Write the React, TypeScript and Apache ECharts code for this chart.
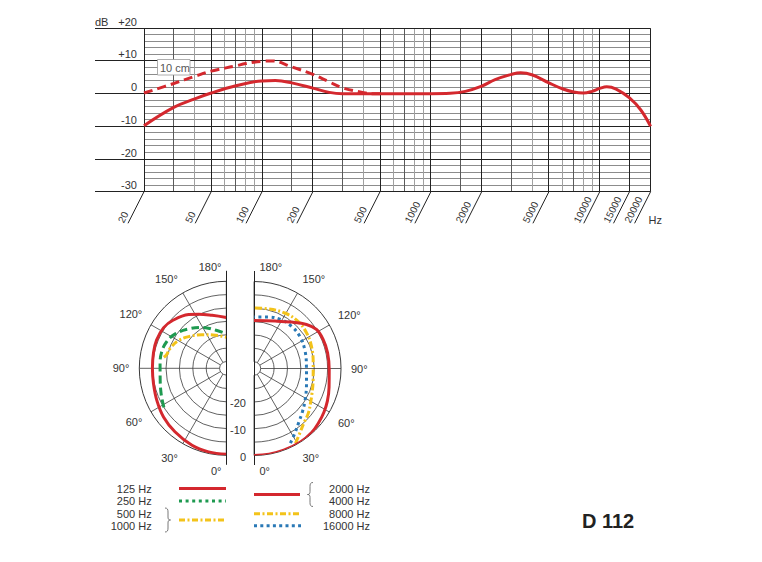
import React, { useEffect, useRef } from 'react';
import * as echarts from 'echarts';

const FONT = '"Liberation Sans", Arial, Helvetica, sans-serif';
const RED = '#d4282e';
const GREEN = '#1e9a50';
const YELLOW = '#f3c31a';
const BLUE = '#2a79b6';
const INK = '#333';

// ---------- frequency response (top) ----------
const FREQ_FAR = [20, 30, 40, 50, 70, 100, 120, 150, 200, 250, 300, 400, 700, 1000, 1300, 1600, 2000, 2400, 3000, 3400, 4000, 5000, 6000, 7000, 8000, 9000, 10000, 11000, 12500, 15000, 17500, 20000];
const DB_FAR = [-9.8, -4.2, -1.6, 0.2, 2.4, 3.9, 4.0, 3.3, 1.7, 0.4, 0, 0, 0, 0, 0.1, 0.7, 2.3, 4.3, 5.9, 6.4, 5.7, 3.3, 1.5, 0.5, 0.2, 0.7, 1.6, 2.1, 1.4, -1.3, -5.0, -10];

const FREQ_NEAR = [20, 30, 40, 50, 70, 80, 100, 115, 150, 200, 250, 300, 400, 450, 500];
const DB_NEAR = [0.2, 3.1, 5.3, 6.9, 8.5, 9.2, 9.9, 10, 8.2, 5.9, 3.6, 1.8, 0.3, 0, 0];

const FREQ_MAJOR = [20, 50, 100, 200, 500, 1000, 2000, 5000, 10000, 15000, 20000];
const FREQ_LABELS = ['20', '50', '100', '200', '500', '1000', '2000', '5000', '10000', '15000', '20000'];
const FREQ_MID = [30, 70, 150, 300, 700, 1500, 3000, 7000];
const FREQ_LIGHT = [40, 60, 80, 90, 400, 600, 800, 900, 4000, 6000, 8000, 9000];
const DB_MAJOR = [-30, -20, -10, 0, 10, 20];
const DB_MINOR = [-28, -26, -24, -22, -18, -16, -14, -12, -8, -6, -4, -2, 2, 4, 6, 8, 12, 14, 16, 18];

// ---------- polar patterns (bottom) ----------
// left half: 125 Hz, 250 Hz, 500/1000 Hz
const ANG_125 = [0, 12, 24, 39, 52, 65, 78, 90, 102, 112, 123, 132, 145, 153, 165, 180];
const DB_125 = [-0.4, -0.6, -1.0, -2.0, -2.8, -3.9, -4.7, -4.9, -4.7, -4.4, -4.6, -5.7, -8.0, -9.8, -12.0, -13.5];
const ANG_250 = [58, 69, 83, 94, 104, 114, 124, 136, 149, 164, 180];
const DB_250 = [-5.0, -6.4, -7.6, -7.7, -7.6, -8.1, -9.5, -12.1, -14.7, -17.6, -19.6];
const ANG_500 = [100, 103, 111, 120, 130, 144, 162, 180];
const DB_500 = [-8.8, -9.6, -10.4, -11.8, -14.1, -17.0, -19.5, -20.9];
// right half: 2000/4000 Hz, 8000 Hz, 16000 Hz
const ANG_2000 = [0, 10, 20, 32, 42, 50, 58, 66, 76, 89, 102, 113, 122, 130, 141, 156, 180];
const DB_2000 = [0, 0, 0, 0, -0.3, -1.0, -1.7, -2.5, -3.6, -4.4, -4.4, -4.5, -5.0, -6.9, -10.2, -13.1, -14.6];
const ANG_8000 = [29, 35, 43, 51, 60, 65, 79, 95, 111, 124, 137, 151, 167, 180];
const DB_8000 = [-0.5, -2.8, -5.0, -6.3, -8.0, -8.7, -10.0, -10.3, -9.5, -8.8, -8.4, -8.8, -9.6, -9.9];
const ANG_16000 = [26, 32, 40, 48, 58, 74, 92, 110, 125, 138, 151, 165, 180];
const DB_16000 = [-1.5, -3.8, -6.4, -8.2, -10.0, -12.1, -12.9, -12.3, -11.6, -11.4, -11.6, -12.6, -13.3];

const RING_LEVELS = [-30, -25, -20, -15, -10, -5, 0];
const RADIAL_LABELS = [-20, -10, 0];

const zip = (a: number[], b: number[]) => a.map((v, i) => [v, b[i]]);

echarts.graphic.registerShape(
  'braceR',
  echarts.graphic.extendPath('M0,0 C2.5,0 3,1.5 3,4 L3,9 C3,11 3.5,12 5.5,12 C3.5,12 3,13 3,15 L3,20 C3,22.5 2.5,24 0,24', {})
);
echarts.graphic.registerShape(
  'braceL',
  echarts.graphic.extendPath('M5.5,0 C3,0 2.5,1.5 2.5,4 L2.5,9 C2.5,11 2,12 0,12 C2,12 2.5,13 2.5,15 L2.5,20 C2.5,22.5 3,24 5.5,24', {})
);

const crisp = (v: number) => Math.round(v - 0.5) + 0.5;

function topGrid(_params: any, api: any) {
  const ch: any[] = [];
  const line = (a: number[], b: number[], stroke: string, w: number) =>
    ch.push({ type: 'line', shape: { x1: a[0], y1: a[1], x2: b[0], y2: b[1] }, style: { stroke, lineWidth: w } });
  const vline = (f: number, stroke: string) => {
    const a = api.coord([f, -30]);
    const b = api.coord([f, 20]);
    const x = crisp(a[0]);
    line([x, b[1]], [x, a[1]], stroke, 1);
  };
  const hline = (d: number, stroke: string, ext: number) => {
    const a = api.coord([20, d]);
    const b = api.coord([20000, d]);
    const y = crisp(a[1]);
    line([a[0] - ext, y], [b[0], y], stroke, 1);
  };
  DB_MINOR.forEach((d) => hline(d, '#8c8c8c', 0));
  FREQ_LIGHT.forEach((f) => vline(f, '#a0a0a0'));
  FREQ_MID.forEach((f) => vline(f, '#5a5a5a'));
  FREQ_MAJOR.forEach((f) => vline(f, '#222'));
  DB_MAJOR.forEach((d) => hline(d, '#222', 49));
  FREQ_MAJOR.forEach((f, i) => {
    const p = api.coord([f, -30]);
    const q = [p[0] - 16, p[1] + 31.6];
    line(p, q, '#222', 1);
    ch.push({
      type: 'text',
      x: q[0] - 3,
      y: q[1] + 1,
      rotation: (63 * Math.PI) / 180,
      style: { text: FREQ_LABELS[i], fill: INK, fontSize: 10, fontFamily: FONT, align: 'left', verticalAlign: 'bottom' },
    });
  });
  const hz = api.coord([20000, -30]);
  ch.push({
    type: 'text',
    x: hz[0] - 2,
    y: hz[1] + 28.5,
    style: { text: 'Hz', fill: INK, fontSize: 11, fontFamily: FONT, align: 'left', verticalAlign: 'middle' },
  });
  return { type: 'group', children: ch };
}

function polarDeco(side: 'L' | 'R') {
  return (_params: any, api: any) => {
    const top = api.coord([0, 180]);
    const bot = api.coord([0, 0]);
    const mid = api.coord([0, 90]);
    const cx = bot[0];
    const cy = mid[1];
    const x = crisp(top[0]);
    const ch: any[] = [];
    const s = side === 'L' ? -1 : 1;
    const align = side === 'L' ? 'right' : 'left';
    const txt = (text: string, tx: number, ty: number, al: string) => ({
      type: 'text',
      x: tx,
      y: ty,
      style: { text, fill: INK, fontSize: 11, fontFamily: FONT, align: al, verticalAlign: 'middle' },
    });
    RING_LEVELS.forEach((v) => {
      const p = api.coord([v, 90]);
      const r = Math.abs(p[0] - cx);
      ch.push({
        type: 'arc',
        shape: {
          cx,
          cy,
          r,
          startAngle: side === 'L' ? Math.PI / 2 : -Math.PI / 2,
          endAngle: side === 'L' ? (3 * Math.PI) / 2 : Math.PI / 2,
          clockwise: true,
        },
        style: { stroke: '#3a3a3a', lineWidth: v === 0 ? 1 : 0.8, fill: null },
      });
    });
    ch.push({ type: 'line', shape: { x1: x, y1: top[1] - 10.5, x2: x, y2: bot[1] + 9.5 }, style: { stroke: '#222', lineWidth: 1 } });
    ch.push(txt('180°', x + s * 5, top[1] - 14.3, align));
    ch.push(txt('0°', x + s * 5, bot[1] + 15.4, align));
    if (side === 'R') {
      RADIAL_LABELS.forEach((v) => {
        const p = api.coord([v, 0]);
        ch.push(txt(String(v), p[0] - 8, p[1] + 1, 'right'));
      });
    }
    return { type: 'group', children: ch };
  };
}

function angleAxis(polarIndex: number, startAngle: number, endAngle: number, clockwise: boolean) {
  return {
    polarIndex,
    type: 'value',
    min: 0,
    max: 180,
    interval: 30,
    startAngle,
    endAngle,
    clockwise,
    axisLine: { show: false },
    axisTick: { show: false },
    axisLabel: {
      margin: 10,
      color: INK,
      fontSize: 11,
      fontFamily: FONT,
      formatter: (v: number) => (v === 0 || v === 180 ? '' : v + '°'),
    },
    splitLine: { show: true, lineStyle: { color: '#3a3a3a', width: 0.8 } },
  };
}

function radiusAxis(polarIndex: number) {
  return {
    polarIndex,
    type: 'value',
    min: -30,
    max: 0,
    interval: 5,
    axisLine: { show: false },
    axisTick: { show: false },
    axisLabel: { show: false },
    splitLine: { show: false },
  };
}

function polarLine(polarIndex: number, angles: number[], dbs: number[], color: string, type: any, z: number) {
  return {
    type: 'line',
    coordinateSystem: 'polar',
    polarIndex,
    data: zip(dbs, angles),
    smooth: 0.4,
    symbol: 'none',
    showSymbol: false,
    silent: true,
    z,
    lineStyle: { color, width: 3, type, cap: 'butt' },
  };
}

function buildOption() {
  const T = (text: string, x: number, y: number, align = 'right', extra: any = {}) => ({
    type: 'text',
    x,
    y,
    style: { text, fill: INK, fontSize: 11, fontFamily: FONT, align, verticalAlign: 'middle', ...extra },
  });
  const L = (x1: number, x2: number, y: number, stroke: string, lineDash?: number[]) => ({
    type: 'line',
    shape: { x1, y1: y, x2, y2: y },
    style: { stroke, lineWidth: 3, lineDash },
  });
  return {
    animation: false,
    textStyle: { fontFamily: FONT },
    grid: { left: 144, right: 111.4, top: 28.3, bottom: 370.3, containLabel: false },
    xAxis: {
      type: 'log',
      logBase: 10,
      min: 20,
      max: 20000,
      axisLine: { show: false },
      axisTick: { show: false },
      axisLabel: { show: false },
      splitLine: { show: false },
    },
    yAxis: {
      type: 'value',
      min: -30,
      max: 20,
      interval: 10,
      axisLine: { show: false },
      axisTick: { show: false },
      splitLine: { show: false },
      axisLabel: {
        color: INK,
        fontSize: 11,
        fontFamily: FONT,
        align: 'right',
        verticalAlign: 'bottom',
        margin: 7,
        padding: [0, 0, 1, 0],
        formatter: (v: number) => (v > 0 ? '+' + v : String(v)),
      },
    },
    polar: [
      { center: [226.3, 368.3], radius: [6.7, 87] },
      { center: [254, 368.5], radius: [6.7, 87] },
    ],
    angleAxis: [angleAxis(0, 270, 90, true), angleAxis(1, -90, 90, false)],
    radiusAxis: [radiusAxis(0), radiusAxis(1)],
    series: [
      { type: 'custom', xAxisIndex: 0, yAxisIndex: 0, silent: true, clip: false, z: 1, data: [[20, -30]], renderItem: topGrid },
      {
        type: 'line',
        data: zip(FREQ_NEAR, DB_NEAR),
        smooth: 0.4,
        symbol: 'none',
        silent: true,
        z: 4,
        lineStyle: { color: RED, width: 3, type: [9, 5] },
      },
      {
        type: 'line',
        data: zip(FREQ_FAR, DB_FAR),
        smooth: 0.4,
        symbol: 'none',
        silent: true,
        z: 5,
        lineStyle: { color: RED, width: 3 },
      },
      { type: 'custom', coordinateSystem: 'polar', polarIndex: 0, silent: true, clip: false, z: 2, data: [[0, 0]], renderItem: polarDeco('L') },
      { type: 'custom', coordinateSystem: 'polar', polarIndex: 1, silent: true, clip: false, z: 2, data: [[0, 0]], renderItem: polarDeco('R') },
      polarLine(0, ANG_500, DB_500, YELLOW, [7, 2.5, 2, 2.5], 3),
      polarLine(0, ANG_250, DB_250, GREEN, [8, 4], 4),
      polarLine(0, ANG_125, DB_125, RED, 'solid', 5),
      polarLine(1, ANG_16000, DB_16000, BLUE, [3, 3.5], 3),
      polarLine(1, ANG_8000, DB_8000, YELLOW, [7, 2.5, 2, 2.5], 4),
      polarLine(1, ANG_2000, DB_2000, RED, 'solid', 5),
    ],
    graphic: [
      T('dB', 95, 22, 'left'),
      {
        type: 'rect',
        z: 10,
        shape: { x: 157.5, y: 59.5, width: 32.5, height: 15.5 },
        style: { fill: '#fff', stroke: '#999', lineWidth: 0.8 },
      },
      { ...T('10 cm', 160, 67.5, 'left', { fill: '#555' }), z: 11 },
      // legend, left group
      T('125 Hz', 151.7, 488.5),
      T('250 Hz', 151.7, 501),
      T('500 Hz', 151.7, 513.7),
      T('1000 Hz', 151.7, 526),
      { type: 'braceR', x: 165, y: 508, style: { stroke: '#555', fill: 'none', lineWidth: 0.8 } },
      L(179, 226, 488.5, RED),
      L(179, 226, 501, GREEN, [3, 3.6]),
      L(179, 226, 520, YELLOW, [6, 2.5, 2, 2.5]),
      // legend, right group
      L(254, 300, 494.5, RED),
      L(254, 301, 513.7, YELLOW, [6, 2.5, 2, 2.5]),
      L(254, 301, 525.7, BLUE, [3, 3.3]),
      { type: 'braceL', x: 307.5, y: 482.5, style: { stroke: '#555', fill: 'none', lineWidth: 0.8 } },
      T('2000 Hz', 370, 488.5),
      T('4000 Hz', 370, 501),
      T('8000 Hz', 370, 513.7),
      T('16000 Hz', 370, 525.7),
      T('D 112', 608, 521, 'center', { fontSize: 20, fontWeight: 'bold', fill: '#222' }),
    ],
  };
}

export default function App() {
  const ref = useRef<HTMLDivElement>(null);
  useEffect(() => {
    document.body.style.margin = '0';
    document.body.style.overflow = 'hidden';
    const chart = echarts.init(ref.current as HTMLDivElement, null, { renderer: 'svg' });
    chart.setOption(buildOption() as any);
    return () => chart.dispose();
  }, []);
  return <div ref={ref} style={{ width: 762, height: 562 }} />;
}
